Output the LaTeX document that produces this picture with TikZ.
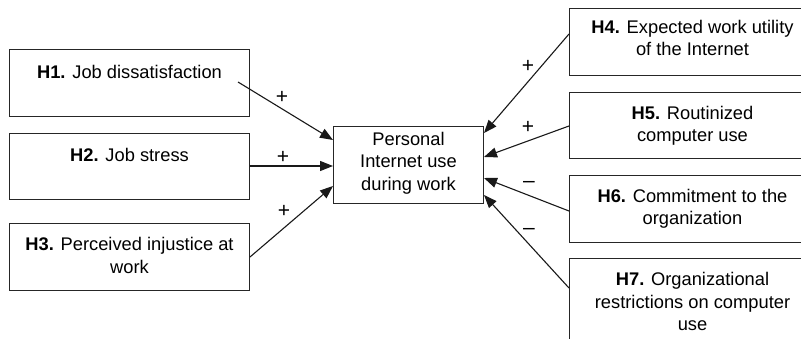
\documentclass[tikz,border=0pt]{standalone}
\usepackage{fontspec}
\setmainfont{Liberation Sans}
\usetikzlibrary{arrows.meta,calc}
\begin{document}
\begin{tikzpicture}[x=1pt,y=-1pt,
  box/.style={draw=black!85,line width=1pt,fill=white,rectangle,inner sep=0pt},
  lbox/.style={box,minimum width=240pt,anchor=north west},
  rbox/.style={box,minimum width=246pt,anchor=north west},
  txt/.style={align=center,inner sep=0pt,anchor=north,font=\fontsize{18.3}{22.5}\selectfont},
  lbl/.style={inner sep=0pt,anchor=base,font=\fontsize{21}{22}\selectfont},
  arr/.style={line width=1.1pt,draw=black!90,-{Triangle[length=13pt,width=10pt]}}]
\clip (0,0) rectangle (801,339);
\fill[white] (0,0) rectangle (801,339);
% left boxes
\node[lbox,minimum height=67pt] (h1) at (9,49) {};
\node[lbox,minimum height=66pt] (h2) at (9,133) {};
\node[lbox,minimum height=67pt] (h3) at (9,223) {};
% centre
\node[box,minimum width=150pt,minimum height=77pt,anchor=north west] (c) at (333,126) {};
% right boxes
\node[rbox,minimum height=67pt] (h4) at (569,8) {};
\node[rbox,minimum height=66pt] (h5) at (569,92) {};
\node[rbox,minimum height=67pt] (h6) at (569,175) {};
\node[rbox,minimum height=120pt] (h7) at (569,258) {};
% texts
\node[txt] (t1) at ($(h1.north)+(0,16)$) {\textbf{H1.} Job dissatisfaction};
\node[txt] (t2) at ($(h2.north)+(0,15)$) {\textbf{H2.} Job stress};
\node[txt] (t3) at ($(h3.north)+(0,14.5)$) {\textbf{H3.} Perceived injustice at\\work};
\node[txt,anchor=center] (tc) at ($(c.center)+(0,-2)$) {Personal\\Internet use\\during work};
\node[txt] (t4) at ($(h4.north)+(0,12)$) {\textbf{H4.} Expected work utility\\of the Internet};
\node[txt] (t5) at ($(h5.north)+(0,14)$) {\textbf{H5.} Routinized\\computer use};
\node[txt] (t6) at ($(h6.north)+(0,14)$) {\textbf{H6.} Commitment to the\\organization};
\node[txt] (t7) at ($(h7.north)+(0,14.5)$) {\textbf{H7.} Organizational\\restrictions on computer\\use};
% connectors
\draw[arr] ($(h1.north east)+(-12,33)$) -- ($(c.north west)+(0,14)$);
\draw[arr] ($(h2.north east)+(0,33)$) -- ($(c.north west)+(0,40)$);
\draw[arr] ($(h3.north east)+(0,34)$) -- ($(c.north west)+(0,60)$);
\draw[arr] ($(h4.north west)+(0,26)$) -- ($(c.north east)+(0,7)$);
\draw[arr] ($(h5.north west)+(0,34)$) -- ($(c.north east)+(0,31)$);
\draw[arr] ($(h6.north west)+(0,36)$) -- ($(c.north east)+(0,52)$);
\draw[arr] ($(h7.north west)+(0,30)$) -- ($(c.north east)+(0,69)$);
% signs
\node[lbl] (s1) at (282,104) {+};
\node[lbl] (s2) at (283,164) {+};
\node[lbl] (s3) at (284,218) {+};
\node[lbl] (s4) at (528,73) {+};
\node[lbl] (s5) at (528,134) {+};
\node[lbl] (s6) at (529,187.5) {–};
\node[lbl] (s7) at (529,234.5) {–};
\end{tikzpicture}
\end{document}
